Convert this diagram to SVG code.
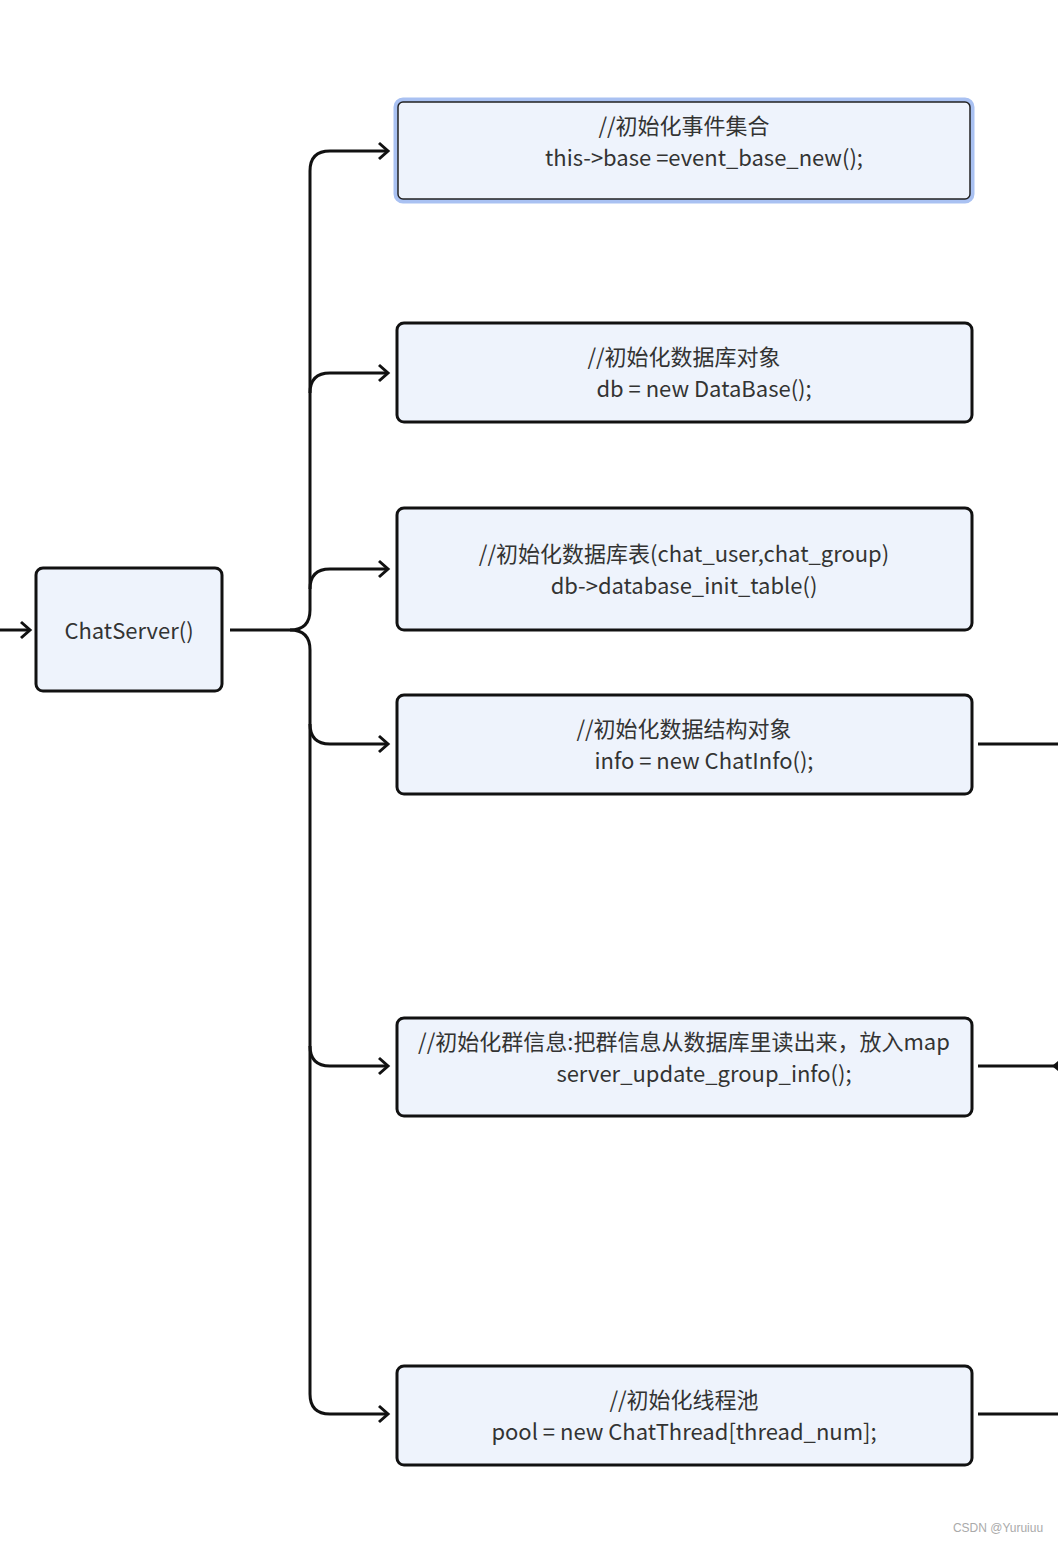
<svg xmlns="http://www.w3.org/2000/svg" width="1058" height="1542" viewBox="0 0 1058 1542">
<style>
.box{fill:#eef3fc;stroke:#111;stroke-width:3}
.t{font-family:"Noto Sans CJK SC","Noto Sans",sans-serif;font-size:22px;fill:#333;text-anchor:middle}
.c{fill:none;stroke:#111;stroke-width:3;stroke-linejoin:round}
</style>
<defs>
<marker id="ah" markerWidth="14" markerHeight="20" refX="11" refY="10" orient="auto" markerUnits="userSpaceOnUse">
<path d="M2,2 L11,10 L2,18" fill="none" stroke="#111" stroke-width="3" stroke-linejoin="miter"/>
</marker>
</defs>
<rect width="1058" height="1542" fill="#fff"/>
<g id="connectors">
<path class="c" d="M0,630 H30" marker-end="url(#ah)"/>
<path class="c" d="M230,630 H290 Q310,630 310,610 V171 Q310,151 330,151 H388" marker-end="url(#ah)"/>
<path class="c" d="M290,630 Q310,630 310,650 V1394 Q310,1414 330,1414 H388" marker-end="url(#ah)"/>
<path class="c" d="M310,393 Q310,373 330,373 H388" marker-end="url(#ah)"/>
<path class="c" d="M310,589 Q310,569 330,569 H388" marker-end="url(#ah)"/>
<path class="c" d="M310,724 Q310,744 330,744 H388" marker-end="url(#ah)"/>
<path class="c" d="M310,1046 Q310,1066 330,1066 H388" marker-end="url(#ah)"/>
<path class="c" d="M978,744 H1058"/>
<path class="c" d="M978,1066 H1058"/>
<path d="M1052,1066 L1058,1061 V1071 Z" fill="#111"/>
<path class="c" d="M978,1414 H1058"/>
</g>
<g id="n0">
<rect class="box" x="36" y="568" width="186" height="123" rx="7"/>
<text class="t" x="129" y="639">ChatServer()</text>
</g>
<g id="n1">
<rect x="396" y="100" width="576" height="101" rx="7" fill="#eef3fc" stroke="#a9c1f2" stroke-width="5"/>
<rect x="398" y="102" width="572" height="97" rx="5" fill="#eef3fc" stroke="#222" stroke-width="1.5"/>
<text class="t" x="684" y="134">//初始化事件集合</text>
<text class="t" x="704" y="166">this-&gt;base =event_base_new();</text>
</g>
<g id="n2">
<rect class="box" x="397" y="323" width="575" height="99" rx="7"/>
<text class="t" x="684" y="365">//初始化数据库对象</text>
<text class="t" x="704" y="397">db = new DataBase();</text>
</g>
<g id="n3">
<rect class="box" x="397" y="508" width="575" height="122" rx="7"/>
<text class="t" x="684" y="562">//初始化数据库表(chat_user,chat_group)</text>
<text class="t" x="684" y="594">db-&gt;database_init_table()</text>
</g>
<g id="n4">
<rect class="box" x="397" y="695" width="575" height="99" rx="7"/>
<text class="t" x="684" y="737">//初始化数据结构对象</text>
<text class="t" x="704" y="769">info = new ChatInfo();</text>
</g>
<g id="n5">
<rect class="box" x="397" y="1018" width="575" height="98" rx="7"/>
<text class="t" x="684" y="1050">//初始化群信息:把群信息从数据库里读出来，放入map</text>
<text class="t" x="704" y="1082">server_update_group_info();</text>
</g>
<g id="n6">
<rect class="box" x="397" y="1366" width="575" height="99" rx="7"/>
<text class="t" x="684" y="1408">//初始化线程池</text>
<text class="t" x="684" y="1440">pool = new ChatThread[thread_num];</text>
</g>
<text x="998" y="1532" font-family="Liberation Sans,Arial,sans-serif" font-size="12" fill="#aaa" text-anchor="middle">CSDN @Yuruiuu</text>
</svg>
